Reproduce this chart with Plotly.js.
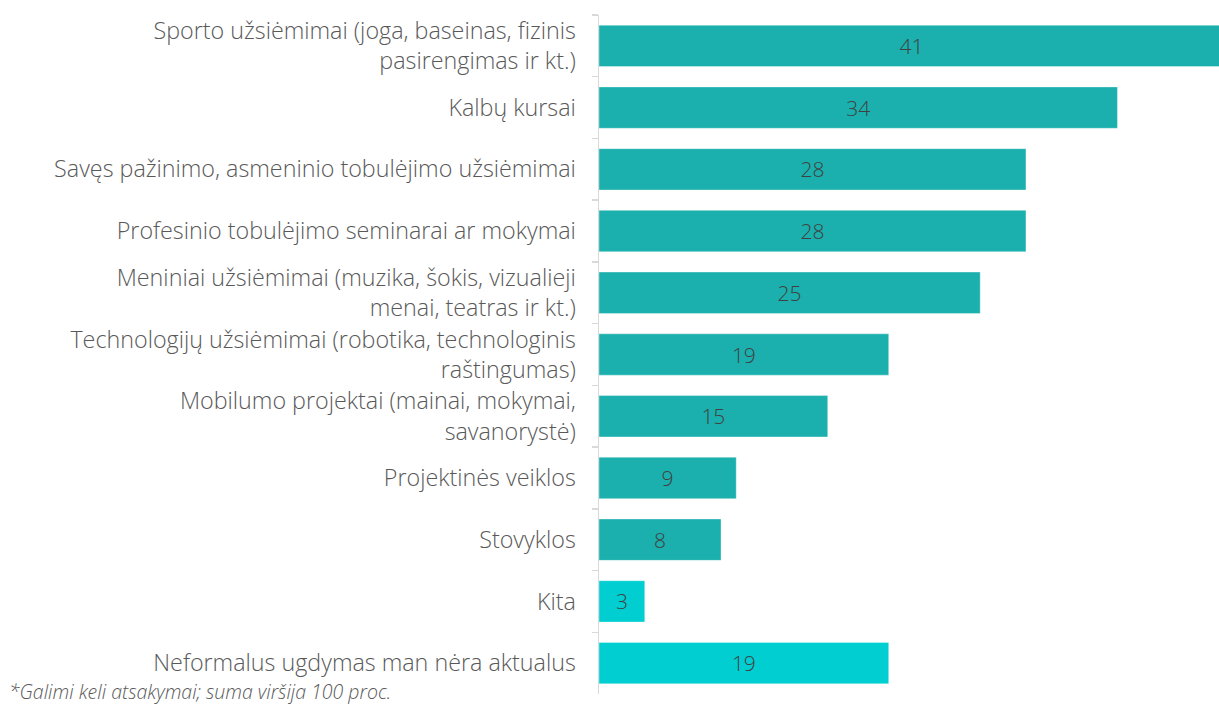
<!DOCTYPE html>
<html>
<head>
<meta charset="utf-8">
<script src="https://cdn.plot.ly/plotly-3.0.1.min.js"></script>
<style>html,body{margin:0;padding:0;background:#fff;}#chart{width:1219px;height:704px;}</style>
</head>
<body>
<div id="chart"></div>
<script>
const categories = [
  "Sporto užsiėmimai (joga, baseinas, fizinis<br>pasirengimas ir kt.)",
  "Kalbų kursai",
  "Savęs pažinimo, asmeninio tobulėjimo užsiėmimai",
  "Profesinio tobulėjimo seminarai ar mokymai",
  "Meniniai užsiėmimai (muzika, šokis, vizualieji<br>menai, teatras ir kt.)",
  "Technologijų užsiėmimai (robotika, technologinis<br>raštingumas)",
  "Mobilumo projektai (mainai, mokymai,<br>savanorystė)",
  "Projektinės veiklos",
  "Stovyklos",
  "Kita",
  "Neformalus ugdymas man nėra aktualus"
];
const values = [41, 34, 28, 28, 25, 19, 15, 9, 8, 3, 19];
const barColors = ["#1BB0AD","#1BB0AD","#1BB0AD","#1BB0AD","#1BB0AD","#1BB0AD","#1BB0AD","#1BB0AD","#1BB0AD","#00CED1","#00CED1"];
const footnote = "*Galimi keli atsakymai; suma viršija 100 proc.";

const fontFam = "'Open Sans', 'Noto Sans', sans-serif";

Plotly.newPlot('chart', [{
  type: 'bar',
  orientation: 'h',
  y: categories,
  x: values,
  text: values.map(String),
  textposition: 'inside',
  insidetextanchor: 'middle',
  textfont: {family: fontFam, size: 21, color: '#404040', weight: 300},
  marker: {color: barColors, line: {color: 'rgba(255,255,255,0.35)', width: 1}},
  width: 0.67,
  hoverinfo: 'none',
  cliponaxis: true
}], {
  width: 1219, height: 704,
  margin: {l: 599, r: 0, t: 15, b: 10, pad: 0},
  paper_bgcolor: '#fff', plot_bgcolor: '#fff',
  showlegend: false,
  bargap: 0.33,
  xaxis: {range: [0, 40.66], visible: false, fixedrange: true},
  yaxis: {
    autorange: 'reversed',
    type: 'category',
    showline: true, linecolor: '#d9d9d9', linewidth: 1.5,
    ticks: 'outside', ticklen: 6, tickcolor: '#d9d9d9', tickwidth: 1.5,
    tickson: 'boundaries',
    showgrid: false, zeroline: false,
    ticklabelstandoff: 17,
    tickfont: {family: fontFam, size: 23.3, color: '#595959', weight: 300}
  },
  annotations: [{
    text: footnote, xref: 'paper', yref: 'paper',
    x: -599/620, y: 0, xanchor: 'left', yanchor: 'middle',
    xshift: 8, yshift: 3, borderpad: 0, showarrow: false,
    font: {family: fontFam, size: 19.5, color: '#595959', style: 'italic', weight: 300}
  }]
}, {displayModeBar: false, staticPlot: true});
</script>
</body>
</html>
